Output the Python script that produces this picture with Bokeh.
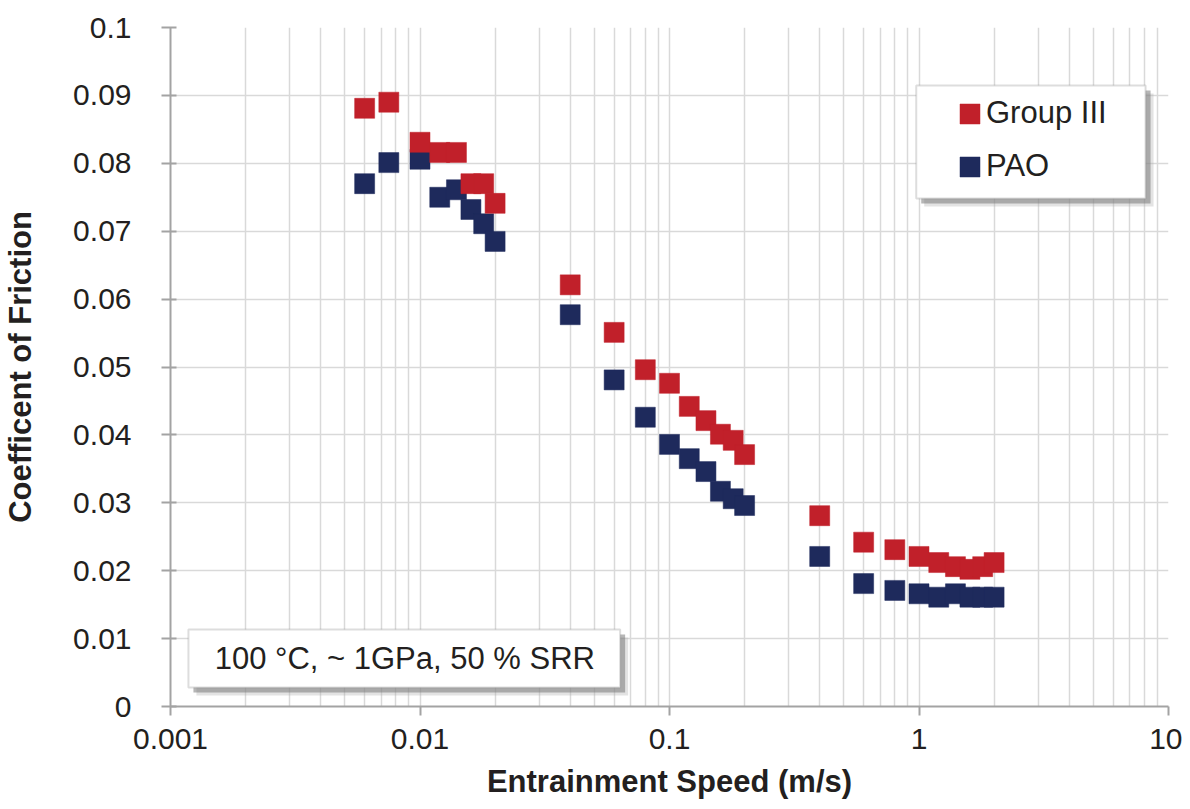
from bokeh.plotting import figure
from bokeh.models import (Range1d, FixedTicker, BoxAnnotation, Label, Legend, LegendItem,
                          ColumnDataSource)
from bokeh.embed import file_html
from bokeh.resources import INLINE

# ---------------- data ----------------
speed = [0.006, 0.0075, 0.01, 0.012, 0.014, 0.016, 0.018, 0.02,
         0.04, 0.06, 0.08, 0.1, 0.12, 0.14, 0.16, 0.18, 0.2,
         0.4, 0.6, 0.8, 1.0, 1.2, 1.4, 1.6, 1.8, 2.0]
group3 = [0.0881, 0.0890, 0.0831, 0.0816, 0.0816, 0.0770, 0.0770, 0.0741,
          0.0621, 0.0551, 0.0496, 0.0476, 0.0442, 0.0421, 0.0401, 0.0392, 0.0371,
          0.0281, 0.0242, 0.0231, 0.0221, 0.0212, 0.0206, 0.0202, 0.0206, 0.0212]
pao = [0.0770, 0.0801, 0.0806, 0.0750, 0.0761, 0.0732, 0.0711, 0.0685,
       0.0577, 0.0481, 0.0426, 0.0386, 0.0365, 0.0346, 0.0317, 0.0306, 0.0296,
       0.0221, 0.0181, 0.0171, 0.0166, 0.0161, 0.0166, 0.0161, 0.0161, 0.0161]
series_names = ["Group III", "PAO"]

x_ticks = [0.001, 0.01, 0.1, 1, 10]
x_tick_labels = ["0.001", "0.01", "0.1", "1", "10"]
y_ticks = [0, 0.01, 0.02, 0.03, 0.04, 0.05, 0.06, 0.07, 0.08, 0.09, 0.1]
y_tick_labels = ["0", "0.01", "0.02", "0.03", "0.04", "0.05", "0.06", "0.07", "0.08", "0.09", "0.1"]
x_minor = [m * d for d in [0.001, 0.01, 0.1, 1] for m in range(2, 10)]

condition_text = "100 °C, ~ 1GPa, 50 % SRR"
x_title = "Entrainment Speed (m/s)"
y_title = "Coefficent of Friction"

# ---------------- styles ----------------
RED = "#c1202a"
NAVY = "#1e2a5c"
GRID = "#d9d9d9"
AXIS = "#a3a3a3"
TEXT = "#231f20"
FONT = "Liberation Sans"

p = figure(width=1182, height=809, x_axis_type="log",
           x_range=Range1d(0.001, 10), y_range=Range1d(0, 0.1),
           output_backend="svg", toolbar_location=None,
           min_border_left=167, min_border_right=14, min_border_top=27, min_border_bottom=103)
p.outline_line_color = None
p.background_fill_color = "white"

p.xaxis.ticker = FixedTicker(ticks=x_ticks, minor_ticks=x_minor)
p.yaxis.ticker = FixedTicker(ticks=y_ticks)
p.xaxis.major_label_overrides = dict(zip(x_ticks, x_tick_labels))
p.yaxis.major_label_overrides = dict(zip(y_ticks, y_tick_labels))

for ax in (p.xaxis, p.yaxis):
    ax.axis_line_color = AXIS
    ax.axis_line_width = 2
    ax.major_tick_line_color = AXIS
    ax.major_tick_line_width = 2
    ax.minor_tick_line_color = None
    ax.major_label_text_font = FONT
    ax.major_label_text_font_size = "30px"
    ax.major_label_text_color = TEXT
    ax.axis_label_text_font = FONT
    ax.axis_label_text_font_size = "31px"
    ax.axis_label_text_font_style = "bold"
    ax.axis_label_text_color = TEXT

p.xaxis.major_tick_out = 9
p.xaxis.major_tick_in = 0
p.yaxis.major_tick_out = 9
p.yaxis.major_tick_in = 6
p.xaxis.major_label_standoff = 13
p.yaxis.major_label_standoff = 30
p.xaxis.axis_label = x_title
p.yaxis.axis_label = y_title
p.xaxis.axis_label_standoff = 12
p.yaxis.axis_label_standoff = 32

p.xgrid.grid_line_color = GRID
p.xgrid.grid_line_width = 1.5
p.xgrid.minor_grid_line_color = GRID
p.xgrid.minor_grid_line_width = 1.5
p.ygrid.grid_line_color = GRID
p.ygrid.grid_line_width = 1.5

src = ColumnDataSource(dict(speed=speed, g3=group3, pao=pao))
r_pao = p.rect(x="speed", y="pao", width=20, height=20, width_units="screen",
               height_units="screen", source=src, fill_color=NAVY, line_color=NAVY, line_width=0.5)
r_g3 = p.rect(x="speed", y="g3", width=20, height=20, width_units="screen",
              height_units="screen", source=src, fill_color=RED, line_color=RED, line_width=0.5)

# ---------------- annotation boxes (layout positions in pixels -> data) ----------------
def dx(px):
    return 10 ** (-3 + (px - 167) / 250.25)

def dy(py):
    return (706 - py) / 6790.0

def shadowed_box(l, t, r, b):
    p.add_layout(BoxAnnotation(left=dx(l + 8), right=dx(r + 8), top=dy(t + 8), bottom=dy(b + 8),
                               fill_color="#b0b0b0", fill_alpha=0.35, line_color=None, level="annotation"))
    p.add_layout(BoxAnnotation(left=dx(l + 5), right=dx(r + 5), top=dy(t + 5), bottom=dy(b + 5),
                               fill_color="#7a7a7a", fill_alpha=0.55, line_color=None, level="annotation"))
    p.add_layout(BoxAnnotation(left=dx(l), right=dx(r), top=dy(t), bottom=dy(b),
                               fill_color="white", fill_alpha=1.0, line_color="#8f8f8f",
                               line_width=2, level="annotation"))

shadowed_box(915, 85, 1145, 198)
shadowed_box(185, 629, 618, 687)

p.add_layout(Label(x=dx(402), y=dy(658), text=condition_text, text_align="center",
                   text_baseline="middle", text_font=FONT, text_font_size="31px",
                   text_color=TEXT))

legend = Legend(items=[LegendItem(label=series_names[0], renderers=[r_g3]),
                       LegendItem(label=series_names[1], renderers=[r_pao])],
                location=(787, 522), glyph_width=25, glyph_height=25, label_standoff=4,
                label_text_font=FONT, label_text_font_size="31px", label_text_color=TEXT,
                background_fill_alpha=0, border_line_color=None, padding=0, margin=0,
                spacing=17, label_height=25)
p.add_layout(legend)

open("out.html", "w").write(file_html(p, INLINE))
